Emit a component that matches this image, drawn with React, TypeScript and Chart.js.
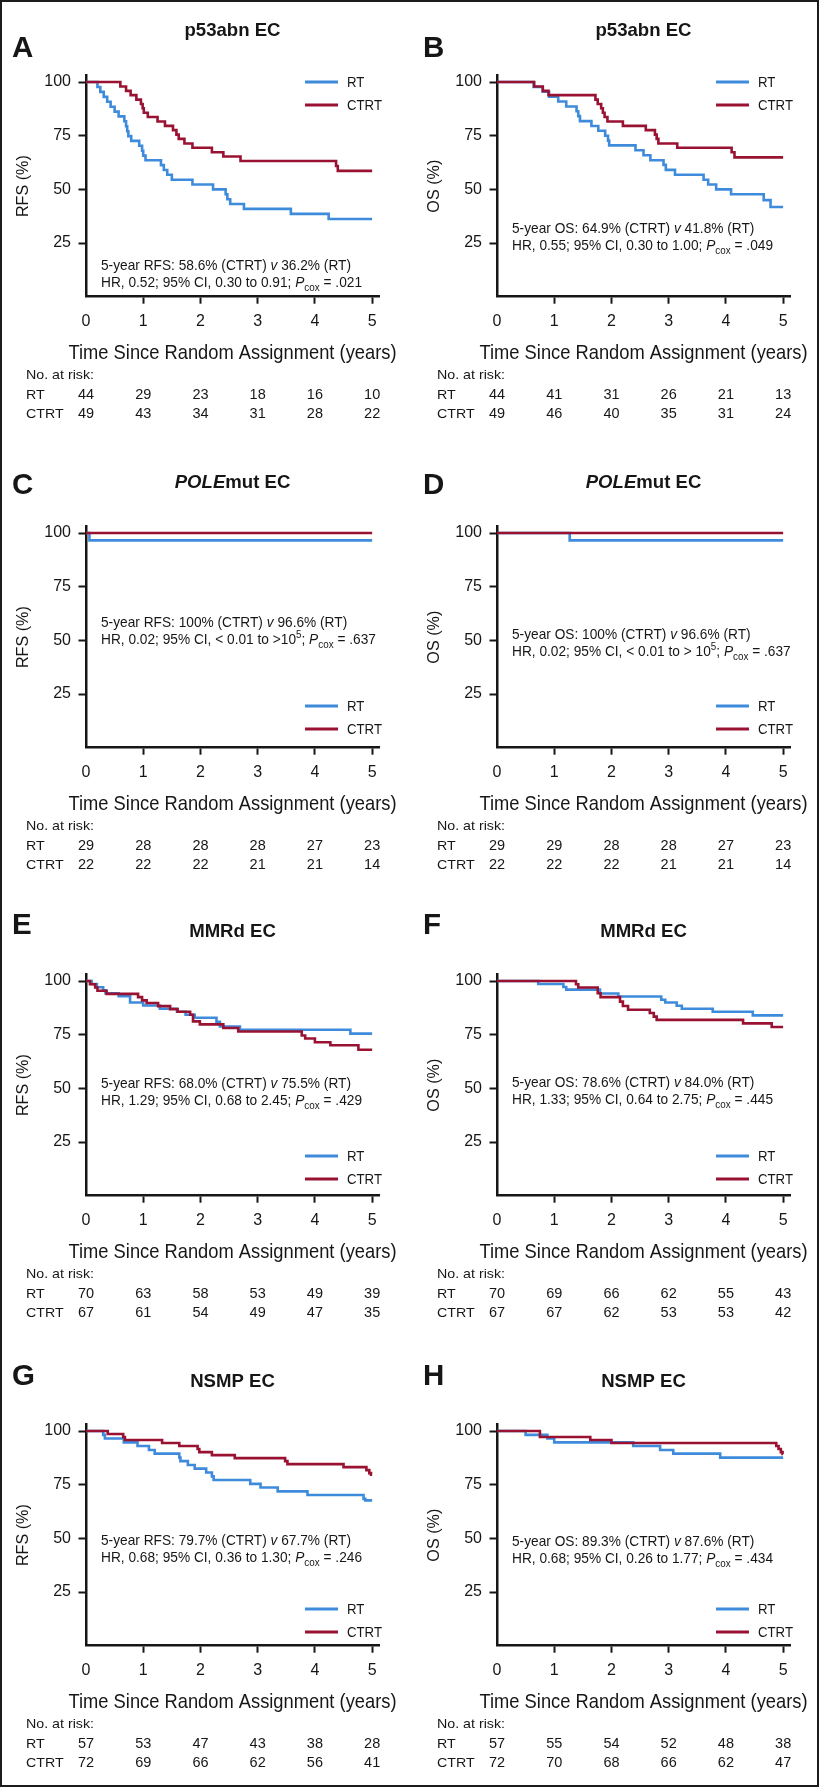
import React, { useEffect, useRef } from 'react';
import { Chart, registerables } from 'chart.js';

Chart.register(...registerables);

// ---------- shared labels ----------
const X_TICKS = [0, 1, 2, 3, 4, 5];
const Y_TICKS = [25, 50, 75, 100];
const X_LABEL = 'Time Since Random Assignment (years)';
const RISK_HEADER = 'No. at risk:';
const GROUPS = ['RT', 'CTRT'];

// ---------- Kaplan-Meier curves: [years, %] ----------
const A_RT: number[][] = [[0,100],[0.20,97.7],[0.25,95.4],[0.31,93.1],[0.37,90.8],[0.43,88.5],[0.50,86.2],[0.57,84.0],[0.67,81.7],[0.70,79.4],[0.72,77.1],[0.74,74.8],[0.79,72.6],[0.93,70.3],[0.98,68.0],[1.00,65.7],[1.04,63.6],[1.31,61.3],[1.36,59.0],[1.42,56.8],[1.50,54.5],[1.86,52.3],[2.22,50.0],[2.44,47.7],[2.47,45.4],[2.52,43.2],[2.76,40.9],[3.58,38.6],[4.24,36.2],[5.0,36.2]];
const A_CTRT: number[][] = [[0,100],[0.60,97.9],[0.70,95.9],[0.78,93.9],[0.88,91.8],[0.96,89.8],[0.99,87.8],[1.01,85.7],[1.08,83.7],[1.25,81.6],[1.38,79.6],[1.52,77.6],[1.58,75.5],[1.62,73.5],[1.72,71.4],[1.86,69.4],[2.20,67.3],[2.40,65.3],[2.70,63.2],[4.37,60.9],[4.40,58.6],[5.0,58.6]];
const B_RT: number[][] = [[0,100],[0.64,97.7],[0.80,95.5],[0.91,93.2],[1.07,90.9],[1.21,88.6],[1.39,86.4],[1.42,84.1],[1.45,81.8],[1.65,79.5],[1.77,77.3],[1.89,75.0],[1.94,72.7],[1.96,70.5],[2.42,68.2],[2.56,65.9],[2.68,63.6],[2.91,61.4],[2.95,59.1],[3.11,56.8],[3.61,54.5],[3.69,52.3],[3.83,50.0],[4.09,47.7],[4.66,45.0],[4.78,41.8],[5.0,41.8]];
const B_CTRT: number[][] = [[0,100],[0.65,97.9],[0.80,95.9],[0.90,93.9],[1.72,91.8],[1.76,89.8],[1.82,87.8],[1.85,85.7],[1.88,83.7],[1.93,81.6],[2.20,79.6],[2.60,77.6],[2.76,75.5],[2.79,73.5],[2.82,71.4],[3.15,69.4],[4.10,67.3],[4.15,64.9],[5.0,64.9]];
const C_RT: number[][] = [[0,100],[0.06,96.6],[5.0,96.6]];
const C_CTRT: number[][] = [[0,100],[5.0,100]];
const D_RT: number[][] = [[0,100],[1.27,96.6],[5.0,96.6]];
const D_CTRT: number[][] = [[0,100],[5.0,100]];
const E_RT: number[][] = [[0,100],[0.10,98.6],[0.19,97.1],[0.30,95.7],[0.34,94.3],[0.57,92.9],[0.77,90.0],[1.00,88.6],[1.29,87.1],[1.59,85.7],[1.74,84.3],[1.90,82.9],[2.28,81.0],[2.34,78.8],[2.69,77.3],[4.62,75.5],[5.0,75.5]];
const E_CTRT: number[][] = [[0,100],[0.07,98.5],[0.16,97.0],[0.20,95.5],[0.36,94.0],[0.91,92.5],[0.98,91.0],[1.06,89.8],[1.26,88.3],[1.47,86.9],[1.60,85.7],[1.82,84.3],[1.87,81.2],[1.99,79.8],[2.40,78.1],[2.66,76.5],[3.77,74.6],[3.83,73.2],[4.00,71.5],[4.27,70.1],[4.76,68.0],[5.0,68.0]];
const F_RT: number[][] = [[0,100],[0.72,98.6],[1.16,97.2],[1.21,96.0],[1.80,94.2],[2.12,92.8],[2.87,91.3],[2.94,90.0],[3.14,88.5],[3.23,87.1],[3.77,85.7],[4.47,84.0],[5.0,84.0]];
const F_CTRT: number[][] = [[0,100],[1.38,98.5],[1.42,97.0],[1.76,94.3],[1.81,92.5],[2.15,90.4],[2.20,88.4],[2.29,86.6],[2.67,85.1],[2.74,83.4],[2.79,81.9],[4.30,80.3],[4.80,78.6],[5.0,78.6]];
const G_RT: number[][] = [[0,100],[0.30,98.2],[0.33,96.5],[0.66,94.7],[0.90,93.0],[1.10,91.2],[1.20,89.5],[1.63,87.7],[1.65,86.0],[1.78,84.2],[1.90,82.5],[2.10,80.7],[2.20,78.9],[2.23,77.2],[2.87,75.4],[3.05,73.7],[3.35,71.9],[3.87,70.2],[4.85,68.4],[4.88,67.7],[5.0,67.7]];
const G_CTRT: number[][] = [[0,100],[0.38,98.6],[0.65,97.2],[0.68,95.8],[1.33,94.4],[1.63,93.0],[1.95,91.6],[1.98,90.2],[2.20,88.8],[2.60,87.4],[3.48,86.0],[3.52,84.6],[4.50,83.2],[4.90,81.8],[4.95,80.4],[4.98,79.7],[5.0,79.7]];
const H_RT: number[][] = [[0,100],[0.50,98.2],[0.88,96.5],[1.00,94.7],[2.38,93.0],[2.85,91.2],[3.08,89.5],[3.90,87.6],[5.0,87.6]];
const H_CTRT: number[][] = [[0,100],[0.75,97.2],[1.63,95.8],[2.00,94.4],[4.88,93.0],[4.92,91.6],[4.96,90.2],[4.99,89.3],[5.0,89.3]];

// ---------- numbers at risk ----------
const A_RISK_RT = [44, 29, 23, 18, 16, 10];
const A_RISK_CTRT = [49, 43, 34, 31, 28, 22];
const B_RISK_RT = [44, 41, 31, 26, 21, 13];
const B_RISK_CTRT = [49, 46, 40, 35, 31, 24];
const C_RISK_RT = [29, 28, 28, 28, 27, 23];
const C_RISK_CTRT = [22, 22, 22, 21, 21, 14];
const D_RISK_RT = [29, 29, 28, 28, 27, 23];
const D_RISK_CTRT = [22, 22, 22, 21, 21, 14];
const E_RISK_RT = [70, 63, 58, 53, 49, 39];
const E_RISK_CTRT = [67, 61, 54, 49, 47, 35];
const F_RISK_RT = [70, 69, 66, 62, 55, 43];
const F_RISK_CTRT = [67, 67, 62, 53, 53, 42];
const G_RISK_RT = [57, 53, 47, 43, 38, 28];
const G_RISK_CTRT = [72, 69, 66, 62, 56, 41];
const H_RISK_RT = [57, 55, 54, 52, 48, 38];
const H_RISK_CTRT = [72, 70, 68, 66, 62, 47];

// ---------- styles / layout ----------
const FONT = "'Liberation Sans', Arial, Helvetica, sans-serif";
const INK = '#161616';
const BLUE = '#3f8bdb';
const RED = '#9a1232';
const CW = 408;
const CH = 440;
const ROW_TOP = [0, 451, 899, 1349];
const LETTER_BASE = [57, 43, 35, 36];
const TITLE_BASE = [36, 37, 38, 38];
const LEGEND_Y = [[100, 89.3], [19.4, 8.7], [18.5, 7.8], [17.1, 6.4]];
// text classes: [font size, reference string, reference width in px]
const T_TITLE = { size: 17.8, ref: 'p53abn EC', w: 96 };
const T_NOTE = { size: 15, ref: '5-year RFS: 58.6% (CTRT) {i:v} 36.2% (RT)', w: 250 };
const T_XTITLE = { size: 21, ref: X_LABEL, w: 328 };
const T_LEGEND = { size: 15, ref: 'CTRT', w: 35 };
const T_RISKLAB = { size: 13.5, ref: RISK_HEADER, w: 68 };
const Y_TITLE_REF = { ref: 'RFS (%)', w: 62 };

type Panel = {
  letter: string; title: string; yLabel: string;
  rt: number[][]; ctrt: number[][]; riskRt: number[]; riskCtrt: number[];
  note: string[]; noteY: number; row: number; col: number;
};

const PANELS: Panel[] = [
  { letter: 'A', title: 'p53abn EC', yLabel: 'RFS (%)', rt: A_RT, ctrt: A_CTRT, riskRt: A_RISK_RT, riskCtrt: A_RISK_CTRT,
    note: ['5-year RFS: 58.6% (CTRT) {i:v} 36.2% (RT)', 'HR, 0.52; 95% CI, 0.30 to 0.91; {i:P}{sub:cox} = .021'], noteY: 12.4, row: 0, col: 0 },
  { letter: 'B', title: 'p53abn EC', yLabel: 'OS (%)', rt: B_RT, ctrt: B_CTRT, riskRt: B_RISK_RT, riskCtrt: B_RISK_CTRT,
    note: ['5-year OS: 64.9% (CTRT) {i:v} 41.8% (RT)', 'HR, 0.55; 95% CI, 0.30 to 1.00; {i:P}{sub:cox} = .049'], noteY: 29.7, row: 0, col: 1 },
  { letter: 'C', title: '{i:POLE}mut EC', yLabel: 'RFS (%)', rt: C_RT, ctrt: C_CTRT, riskRt: C_RISK_RT, riskCtrt: C_RISK_CTRT,
    note: ['5-year RFS: 100% (CTRT) {i:v} 96.6% (RT)', 'HR, 0.02; 95% CI, < 0.01 to >10{sup:5}; {i:P}{sub:cox} = .637'], noteY: 56.2, row: 1, col: 0 },
  { letter: 'D', title: '{i:POLE}mut EC', yLabel: 'OS (%)', rt: D_RT, ctrt: D_CTRT, riskRt: D_RISK_RT, riskCtrt: D_RISK_CTRT,
    note: ['5-year OS: 100% (CTRT) {i:v} 96.6% (RT)', 'HR, 0.02; 95% CI, < 0.01 to > 10{sup:5}; {i:P}{sub:cox} = .637'], noteY: 50.6, row: 1, col: 1 },
  { letter: 'E', title: 'MMRd EC', yLabel: 'RFS (%)', rt: E_RT, ctrt: E_CTRT, riskRt: E_RISK_RT, riskCtrt: E_RISK_CTRT,
    note: ['5-year RFS: 68.0% (CTRT) {i:v} 75.5% (RT)', 'HR, 1.29; 95% CI, 0.68 to 2.45; {i:P}{sub:cox} = .429'], noteY: 50.2, row: 2, col: 0 },
  { letter: 'F', title: 'MMRd EC', yLabel: 'OS (%)', rt: F_RT, ctrt: F_CTRT, riskRt: F_RISK_RT, riskCtrt: F_RISK_CTRT,
    note: ['5-year OS: 78.6% (CTRT) {i:v} 84.0% (RT)', 'HR, 1.33; 95% CI, 0.64 to 2.75; {i:P}{sub:cox} = .445'], noteY: 50.6, row: 2, col: 1 },
  { letter: 'G', title: 'NSMP EC', yLabel: 'RFS (%)', rt: G_RT, ctrt: G_CTRT, riskRt: G_RISK_RT, riskCtrt: G_RISK_CTRT,
    note: ['5-year RFS: 79.7% (CTRT) {i:v} 67.7% (RT)', 'HR, 0.68; 95% CI, 0.36 to 1.30; {i:P}{sub:cox} = .246'], noteY: 46.9, row: 3, col: 0 },
  { letter: 'H', title: 'NSMP EC', yLabel: 'OS (%)', rt: H_RT, ctrt: H_CTRT, riskRt: H_RISK_RT, riskCtrt: H_RISK_CTRT,
    note: ['5-year OS: 89.3% (CTRT) {i:v} 87.6% (RT)', 'HR, 0.68; 95% CI, 0.26 to 1.77; {i:P}{sub:cox} = .434'], noteY: 46.4, row: 3, col: 1 },
];

// ---------- rich text helpers ----------
function parseRich(s: string) {
  const out: { t: string; k: string }[] = [];
  const re = /\{(i|sub|sup):([^}]*)\}/g;
  let last = 0;
  let m: RegExpExecArray | null;
  while ((m = re.exec(s))) {
    if (m.index > last) out.push({ t: s.slice(last, m.index), k: '' });
    out.push({ t: m[2], k: m[1] });
    last = re.lastIndex;
  }
  if (last < s.length) out.push({ t: s.slice(last), k: '' });
  return out;
}

function layoutRich(ctx: CanvasRenderingContext2D, s: string, size: number, bold: boolean) {
  return parseRich(s).map((seg) => {
    const small = seg.k === 'sub' || seg.k === 'sup';
    const sz = small ? size * 0.72 : size;
    const font = `${seg.k === 'i' ? 'italic ' : ''}${bold ? 'bold ' : ''}${sz}px ${FONT}`;
    ctx.font = font;
    const dy = seg.k === 'sub' ? size * 0.25 : seg.k === 'sup' ? -size * 0.42 : 0;
    return { ...seg, font, dy, w: ctx.measureText(seg.t).width };
  });
}

function richWidth(ctx: CanvasRenderingContext2D, s: string, size: number, bold: boolean) {
  return layoutRich(ctx, s, size, bold).reduce((a, b) => a + b.w, 0);
}

// draws text horizontally scaled by k (to mimic the condensed type of the original)
function drawRich(ctx: CanvasRenderingContext2D, s: string, x: number, y: number, size: number, bold: boolean, align: string, k: number) {
  const segs = layoutRich(ctx, s, size, bold);
  const total = segs.reduce((a, b) => a + b.w, 0) * k;
  const start = align === 'center' ? x - total / 2 : x;
  ctx.save();
  ctx.translate(start, y);
  ctx.scale(k, 1);
  ctx.textAlign = 'left';
  ctx.textBaseline = 'alphabetic';
  let cx = 0;
  for (const seg of segs) {
    ctx.font = seg.font;
    ctx.fillText(seg.t, cx, seg.dy);
    cx += seg.w;
  }
  ctx.restore();
}

function kFor(ctx: CanvasRenderingContext2D, cls: { size: number; ref: string; w: number }, bold: boolean) {
  return cls.w / richWidth(ctx, cls.ref, cls.size, bold);
}

function yTitleSize() {
  const c = document.createElement('canvas').getContext('2d');
  if (!c) return 17;
  c.font = `100px ${FONT}`;
  return (100 * Y_TITLE_REF.w) / c.measureText(Y_TITLE_REF.ref).width;
}

function decorPlugin(p: Panel) {
  return {
    id: 'kmDecor',
    afterDraw(chart: any) {
      const { ctx, chartArea: ca, scales } = chart;
      const xs = scales.x;
      const ys = scales.y;
      const row = p.row;
      const midX = (ca.left + ca.right) / 2;
      ctx.save();
      ctx.fillStyle = INK;
      // panel letter
      ctx.font = `bold 29.5px ${FONT}`;
      ctx.textAlign = 'left';
      ctx.textBaseline = 'alphabetic';
      ctx.fillText(p.letter, 12, LETTER_BASE[row]);
      // panel title
      drawRich(ctx, p.title, midX, TITLE_BASE[row], T_TITLE.size, true, 'center', kFor(ctx, T_TITLE, true));
      // statistics note
      const kn = kFor(ctx, T_NOTE, false);
      const ax = ca.left + 15;
      const ay = ys.getPixelForValue(p.noteY);
      drawRich(ctx, p.note[0], ax, ay, T_NOTE.size, false, 'left', kn);
      drawRich(ctx, p.note[1], ax, ay + 17, T_NOTE.size, false, 'left', kn);
      // legend
      const kl = kFor(ctx, T_LEGEND, false);
      const cols = [BLUE, RED];
      GROUPS.forEach((name, i) => {
        const py = ys.getPixelForValue(LEGEND_Y[row][i]);
        ctx.strokeStyle = cols[i];
        ctx.lineWidth = 3;
        ctx.beginPath();
        ctx.moveTo(ca.left + 219, py);
        ctx.lineTo(ca.left + 252, py);
        ctx.stroke();
        drawRich(ctx, name, ca.left + 261, py + 5.3, T_LEGEND.size, false, 'left', kl);
      });
      // x-axis title
      drawRich(ctx, X_LABEL, midX, 359, T_XTITLE.size, false, 'center', kFor(ctx, T_XTITLE, false));
      // numbers at risk
      const kr = kFor(ctx, T_RISKLAB, false);
      drawRich(ctx, RISK_HEADER, 26, 379, T_RISKLAB.size, false, 'left', kr);
      const rows = [p.riskRt, p.riskCtrt];
      rows.forEach((vals, r) => {
        const by = 399 + r * 19;
        drawRich(ctx, GROUPS[r], 26, by, T_RISKLAB.size, false, 'left', kr);
        ctx.fillStyle = INK;
        ctx.textAlign = 'center';
        ctx.textBaseline = 'alphabetic';
        ctx.font = `14.5px ${FONT}`;
        vals.forEach((v, k) => {
          ctx.fillText(String(v), xs.getPixelForValue(X_TICKS[k]), by);
        });
      });
      ctx.restore();
    },
  };
}

function KMPanel({ panel }: { panel: Panel }) {
  const ref = useRef<HTMLCanvasElement | null>(null);
  useEffect(() => {
    if (!ref.current) return;
    const toXY = (arr: number[][]) => arr.map(([t, s]) => ({ x: t, y: s }));
    const ySize = yTitleSize();
    const chart = new Chart(ref.current, {
      type: 'line',
      data: {
        datasets: [
          { label: GROUPS[0], data: toXY(panel.rt), borderColor: BLUE, borderWidth: 2.6, pointRadius: 0, stepped: 'before', fill: false, order: 1 },
          { label: GROUPS[1], data: toXY(panel.ctrt), borderColor: RED, borderWidth: 2.6, pointRadius: 0, stepped: 'before', fill: false, order: 0 },
        ],
      },
      options: {
        responsive: false,
        animation: false,
        events: [],
        layout: { padding: { top: 75.6, right: CW - 379, left: 0, bottom: 0 } },
        plugins: { legend: { display: false }, tooltip: { enabled: false }, title: { display: false } },
        scales: {
          x: {
            type: 'linear',
            min: 0,
            max: 5.12,
            afterBuildTicks: (s: any) => { s.ticks = X_TICKS.map((v) => ({ value: v })); },
            afterFit: (s: any) => { s.height = CH - 296.7; },
            grid: {
              drawOnChartArea: false, drawTicks: true, tickLength: 7, tickWidth: 2,
              tickColor: (c: any) => (c.tick && c.tick.value === 0 ? 'rgba(0,0,0,0)' : INK),
            },
            border: { display: true, color: INK, width: 2.5 },
            ticks: { color: INK, font: { size: 16, family: FONT }, padding: 8.5, maxRotation: 0, autoSkip: false, callback: (v: any) => String(v) },
          },
          y: {
            type: 'linear',
            min: 0,
            max: 103,
            afterBuildTicks: (s: any) => { s.ticks = Y_TICKS.map((v) => ({ value: v })); },
            afterFit: (s: any) => { s.width = 86; },
            grid: { drawOnChartArea: false, drawTicks: true, tickLength: 7.5, tickWidth: 2, tickColor: INK },
            border: { display: true, color: INK, width: 2.5 },
            ticks: { color: INK, font: { size: 16, family: FONT }, padding: 7.5, autoSkip: false, callback: (v: any) => String(v) },
            title: {
              display: true, text: panel.yLabel, color: INK,
              font: { size: ySize, family: FONT, lineHeight: 1.2 },
              padding: { top: 23.3 - (ySize * 1.2) / 2, bottom: 0 },
            },
          },
        },
      },
      plugins: [decorPlugin(panel)],
    } as any);
    return () => chart.destroy();
  }, [panel]);
  return (
    <canvas
      ref={ref}
      width={CW}
      height={CH}
      style={{ position: 'absolute', left: panel.col ? 411 : 0, top: ROW_TOP[panel.row], width: CW, height: CH }}
    />
  );
}

export default function App() {
  return (
    <div style={{ position: 'absolute', left: 0, top: 0, width: 819, height: 1789, background: '#fff', overflow: 'hidden' }}>
      {PANELS.map((p, i) => (
        <KMPanel key={i} panel={p} />
      ))}
      <div style={{ position: 'absolute', left: 0, top: 0, width: 819, height: 1787, border: '2px solid #1c1c1c', boxSizing: 'border-box', pointerEvents: 'none' }} />
    </div>
  );
}
